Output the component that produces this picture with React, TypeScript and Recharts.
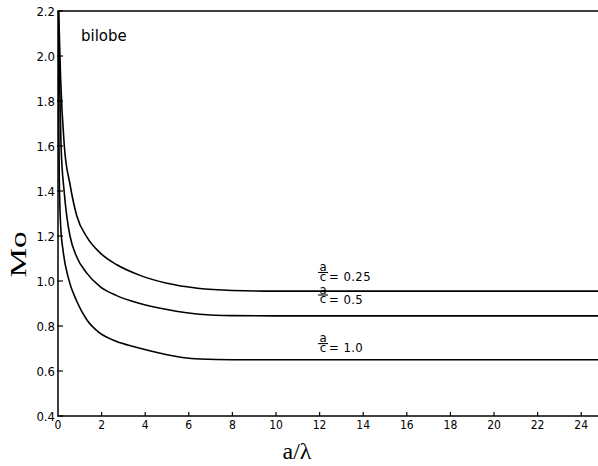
import React from "react";
import {
  LineChart,
  Line,
  XAxis,
  YAxis,
  ReferenceLine,
  ReferenceDot,
  Label,
} from "recharts";

// a/lambda values and Mo values
const curveQuarter = [
  { x: 0.03, v: 2.2 },
  { x: 0.12, v: 1.9 },
  { x: 0.29, v: 1.6 },
  { x: 0.55, v: 1.43 },
  { x: 0.86, v: 1.29 },
  { x: 1.32, v: 1.196 },
  { x: 1.93, v: 1.125 },
  { x: 2.7, v: 1.072 },
  { x: 3.76, v: 1.025 },
  { x: 5.0, v: 0.99 },
  { x: 6.4, v: 0.968 },
  { x: 8.0, v: 0.958 },
  { x: 10.0, v: 0.955 },
  { x: 24.77, v: 0.955 },
];

const curveHalf = [
  { x: 0.02, v: 2.2 },
  { x: 0.07, v: 1.9 },
  { x: 0.14, v: 1.6 },
  { x: 0.28, v: 1.4 },
  { x: 0.4, v: 1.29 },
  { x: 0.55, v: 1.2 },
  { x: 0.86, v: 1.107 },
  { x: 1.32, v: 1.035 },
  { x: 1.93, v: 0.975 },
  { x: 2.69, v: 0.935 },
  { x: 3.76, v: 0.9 },
  { x: 5.0, v: 0.873 },
  { x: 6.5, v: 0.852 },
  { x: 8.0, v: 0.846 },
  { x: 10.0, v: 0.845 },
  { x: 24.77, v: 0.845 },
];

const curveOne = [
  { x: 0.01, v: 2.2 },
  { x: 0.03, v: 1.8 },
  { x: 0.06, v: 1.45 },
  { x: 0.12, v: 1.25 },
  { x: 0.24, v: 1.13 },
  { x: 0.47, v: 1.015 },
  { x: 0.86, v: 0.91 },
  { x: 1.32, v: 0.828 },
  { x: 1.93, v: 0.768 },
  { x: 2.69, v: 0.731 },
  { x: 3.5, v: 0.708 },
  { x: 4.3, v: 0.688 },
  { x: 5.0, v: 0.672 },
  { x: 5.7, v: 0.66 },
  { x: 6.5, v: 0.653 },
  { x: 8.0, v: 0.65 },
  { x: 24.77, v: 0.65 },
];

const xTicks = [0, 2, 4, 6, 8, 10, 12, 14, 16, 18, 20, 22, 24];
const yTicks = [0.4, 0.6, 0.8, 1.0, 1.2, 1.4, 1.6, 1.8, 2.0, 2.2];

const curveLabels = [
  { x: 11.93, y: 1.0, text: "= 0.25" },
  { x: 11.93, y: 0.9, text: "= 0.5" },
  { x: 11.93, y: 0.684, text: "= 1.0" },
];

const tickFont = "'DejaVu Sans Condensed', 'DejaVu Sans', sans-serif";

const YTick = (props: any) => {
  const { x, y, payload } = props;
  const ax = x + 3;
  return (
    <g>
      <line x1={ax - 1} y1={y} x2={ax + 5} y2={y} stroke="#000" strokeWidth={1.2} />
      <text
        x={x}
        y={y}
        dy="0.36em"
        textAnchor="end"
        fontSize={13}
        fontFamily={tickFont}
        fontStretch="condensed"
        fill="#000"
      >
        {Number(payload.value).toFixed(1)}
      </text>
    </g>
  );
};

const XTick = (props: any) => {
  const { x, y, payload } = props;
  const ay = y - 4;
  return (
    <g>
      {payload.value !== 0 && (
        <line x1={x} y1={ay} x2={x} y2={ay - 4} stroke="#000" strokeWidth={1.2} />
      )}
      <text
        x={x}
        y={y}
        dy="0.71em"
        textAnchor="middle"
        fontSize={12}
        fontFamily={tickFont}
        fontStretch="condensed"
        fill="#000"
      >
        {payload.value}
      </text>
    </g>
  );
};

const FracLabel = (text: string) => (props: any) => {
  const { cx, cy } = props;
  if (cx == null || cy == null) return null;
  return (
    <g>
      <text x={cx + 5} y={cy - 10} textAnchor="middle" fontSize={13} fontFamily={tickFont} fontStretch="condensed" fill="#000">
        a
      </text>
      <line x1={cx} y1={cy - 8.5} x2={cx + 10} y2={cy - 8.5} stroke="#000" strokeWidth={1.1} />
      <text x={cx + 5} y={cy - 0.5} textAnchor="middle" fontSize={13} fontFamily={tickFont} fontStretch="condensed" fill="#000">
        c
      </text>
      <text x={cx + 11} y={cy} fontSize={13} fontFamily={tickFont} fontStretch="condensed" fill="#000" letterSpacing={0.4}>
        {text}
      </text>
    </g>
  );
};

const MoLabel = (props: any) => {
  const { viewBox } = props;
  const cx = 26;
  const cy = viewBox.y + viewBox.height / 2 + 41;
  return (
    <text
      x={cx}
      y={cy}
      transform={`rotate(-90, ${cx}, ${cy})`}
      textAnchor="middle"
      fontSize={24}
      fontFamily="'Liberation Serif', 'DejaVu Serif', serif"
      textLength={46}
      lengthAdjust="spacingAndGlyphs"
      fill="#000"
    >
      Mo
    </text>
  );
};

const XLabel = (props: any) => {
  const { viewBox } = props;
  const cx = viewBox.x + 239;
  return (
    <text
      x={cx}
      y={459}
      textAnchor="middle"
      fontSize={24}
      fontFamily="'Liberation Serif', 'DejaVu Serif', serif"
      fill="#000"
    >
      a/λ
    </text>
  );
};

export default function App() {
  return (
    <div style={{ position: "absolute", left: 0, top: 0, width: 598, height: 466, background: "#fff" }}>
      <LineChart width={598} height={466} margin={{ top: 11, right: 0, bottom: 0, left: 0 }}>
        <XAxis
          type="number"
          dataKey="x"
          domain={[0, 24.77]}
          ticks={xTicks}
          allowDataOverflow
          height={50}
          tickSize={0}
          tickMargin={4}
          tick={<XTick />}
          tickLine={false}
          axisLine={{ stroke: "#000", strokeWidth: 1.5 }}
        >
          <Label content={<XLabel />} />
        </XAxis>
        <YAxis
          type="number"
          dataKey="v"
          domain={[0.4, 2.2]}
          ticks={yTicks}
          allowDataOverflow
          width={58}
          tickSize={0}
          tickMargin={3}
          tick={<YTick />}
          tickLine={false}
          axisLine={{ stroke: "#000", strokeWidth: 1.5 }}
        >
          <Label content={<MoLabel />} />
        </YAxis>
        <ReferenceLine y={2.2} stroke="#000" strokeWidth={1.5} ifOverflow="visible" />
        <Line data={curveQuarter} dataKey="v" type="monotone" stroke="#000" strokeWidth={1.6} dot={false} isAnimationActive={false} />
        <Line data={curveHalf} dataKey="v" type="monotone" stroke="#000" strokeWidth={1.6} dot={false} isAnimationActive={false} />
        <Line data={curveOne} dataKey="v" type="monotone" stroke="#000" strokeWidth={1.6} dot={false} isAnimationActive={false} />
        {curveLabels.map((l) => (
          <ReferenceDot key={l.text} x={l.x} y={l.y} r={0} ifOverflow="visible" shape={FracLabel(l.text)} />
        ))}
        <text x={81} y={41} fontSize={15} fontFamily="'DejaVu Sans', sans-serif" fill="#000">
          bilobe
        </text>
      </LineChart>
    </div>
  );
}
